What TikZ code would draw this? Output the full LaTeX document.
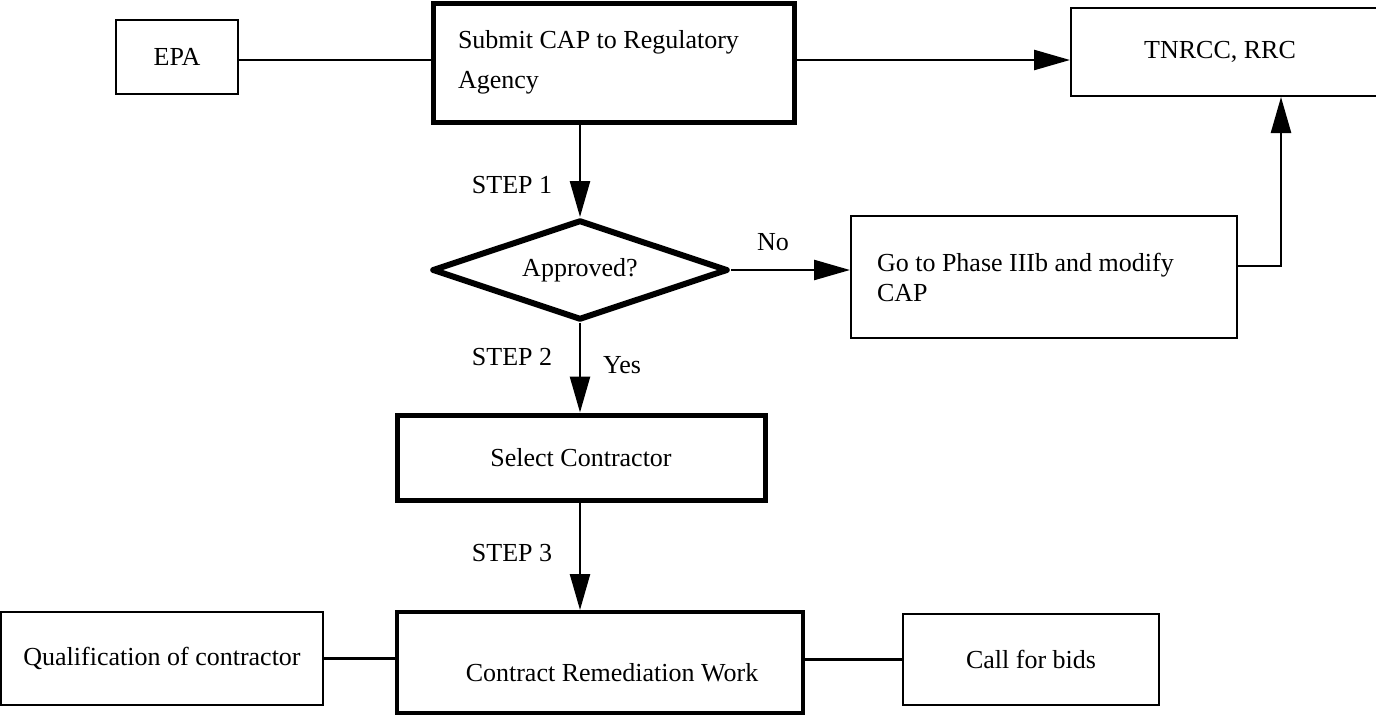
\documentclass[tikz,border=0pt]{standalone}
\usepackage{fontspec}
\setmainfont{Liberation Serif}
\usetikzlibrary{shapes.geometric,arrows.meta}
\begin{document}
\begin{tikzpicture}[x=1pt,y=-1pt,
  every node/.style={font=\fontsize{26}{30}\selectfont, inner sep=0pt},
  thinbox/.style={draw, rectangle, line width=2pt},
  thickbox/.style={draw, rectangle, line width=5pt},
  decision/.style={draw, diamond, aspect=2.96, line width=6pt, line join=round},
  link/.style={line width=2.5pt},
  flow/.style={line width=2.5pt, -{Triangle[length=36pt,width=20pt]}}
]
\useasboundingbox (0,0) rectangle (1376,715);

% top row
\node[thinbox, minimum width=122pt, minimum height=74pt] (epa) at (177,57) {EPA};
\node[thickbox, minimum width=361pt, minimum height=119pt, text width=311pt,
      align=flush left, font=\fontsize{26}{40}\selectfont] (submit) at (613.5,62.5)
      {Submit CAP to Regulatory\\Agency};
% this box runs off the right edge of the page
\node[thinbox, minimum width=314pt, minimum height=88pt] (tnrcc) at (1228,52)
      {\hspace*{-16pt}TNRCC, RRC};

% decision and rework branch
\node[decision, minimum width=296pt, minimum height=100pt] (appr) at (580,270) {Approved?};
\node[thinbox, minimum width=386pt, minimum height=122pt, text width=334pt,
      align=flush left] (go) at (1044,277) {Go to Phase IIIb and modify\\CAP};

% contractor steps
\node[thickbox, minimum width=368pt, minimum height=85pt] (select) at (581,457.5) {Select Contractor};
\node[thickbox, line width=4pt, minimum width=406pt, minimum height=101pt,
      text height=38pt, text depth=0pt] (contract) at (600,662.5)
      {\hspace*{24pt}Contract Remediation Work};
\node[thinbox, minimum width=322pt, minimum height=93pt] (qual) at (162,658.5) {Qualification of contractor};
\node[thinbox, minimum width=256pt, minimum height=91pt] (call) at (1031,659.5) {Call for bids};

% step labels
\node (s1) at (512,185) {STEP 1};
\node (s2) at (512,357) {STEP 2};
\node (yes) at (622,365) {Yes};
\node (s3) at (512,553) {STEP 3};
\node (no) at (773,242) {No};

% connectors
\coordinate (ya) at (0,60);
\coordinate (riser) at (1281,266);
\draw[link] (epa.east |- ya) -- (submit.west |- ya);
\draw[flow] (submit.east |- ya) -- (tnrcc.west |- ya);
\draw[flow] (appr.north |- submit.south) -- (appr.north);
\draw[flow] (appr.east) -- (go.west |- appr.east);
\draw[flow] (go.east |- riser) -| (riser |- tnrcc.south);
\draw[flow] (appr.south) -- (appr.south |- select.north);
\draw[flow] (appr.south |- select.south) -- (appr.south |- contract.north);
\draw[link] (qual.east) -- (qual.east -| contract.west);
\draw[link] (contract.east |- call.west) -- (call.west);
\end{tikzpicture}
\end{document}
